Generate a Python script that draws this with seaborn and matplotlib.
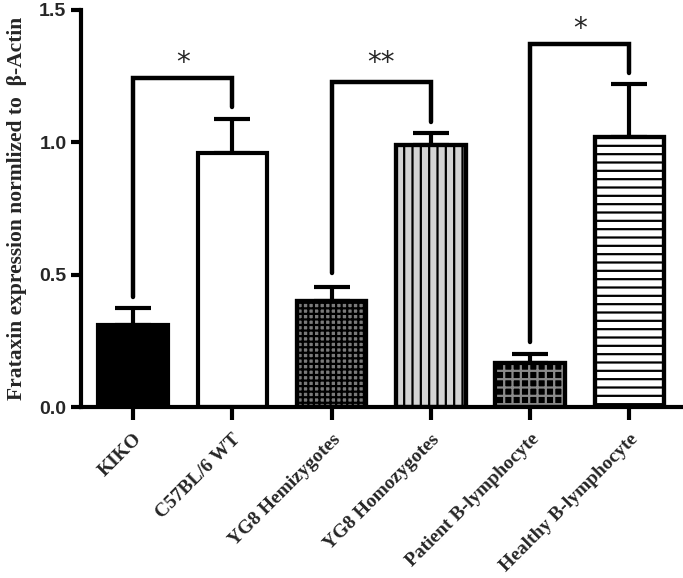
import numpy as np
import pandas as pd
import matplotlib
matplotlib.use("Agg")
import matplotlib.pyplot as plt
import seaborn as sns

# values
groups = ["KIKO", "C57BL/6 WT", "YG8 Hemizygotes", "YG8 Homozygotes",
          "Patient B-lymphocyte", "Healthy B-lymphocyte"]
means = [0.31, 0.96, 0.40, 0.99, 0.165, 1.02]
sem = [0.065, 0.13, 0.055, 0.045, 0.035, 0.20]

# significance brackets: (left, right, top, left leg end, right leg end, label, star height)
pairs = [(0, 1), (2, 3), (4, 5)]
bracket_top = [1.243, 1.228, 1.371]
left_end = [0.416, 0.506, 0.246]
right_end = [1.133, 1.077, 1.262]
stars = ["*", "**", "*"]
star_y = [1.30, 1.30, 1.43]

face = ["black", "white", "#7a7a7a", "#d4d4d4", "black", "white"]
hatches = [None, None, "+++", "||", "++", "--"]
hatch_col = ["black", "black", "black", "black", "#8a8a8a", "black"]

df = pd.DataFrame({"group": groups, "value": means})

sns.set_style("ticks")
plt.rcParams["hatch.linewidth"] = 1.6

fig = plt.figure(figsize=(6.83, 5.78), dpi=100)
ax = fig.add_axes([0.1186, 0.2958, 0.8814, 0.6869])

sns.barplot(data=df, x="group", y="value", order=groups, color="white",
            width=0.7, errorbar=None, ax=ax, zorder=2)

for i, bar in enumerate(ax.patches[:len(groups)]):
    bar.set_facecolor(face[i])
    bar.set_edgecolor("black")
    bar.set_linewidth(3)
    if hatches[i] is not None:
        # separate layer so the hatch can carry its own colour
        ax.bar(i, means[i], width=0.7, facecolor="none", edgecolor=hatch_col[i],
               hatch=hatches[i], linewidth=0, zorder=2.5)
        ax.bar(i, means[i], width=0.7, facecolor="none", edgecolor="black",
               linewidth=3, zorder=2.6)

x = np.arange(len(groups))
ax.errorbar(x, means, yerr=[np.zeros(len(sem)), sem], fmt="none", ecolor="black",
            elinewidth=3, capsize=13, capthick=3, zorder=1)

for k, (a, b) in enumerate(pairs):
    ax.plot([a, a, b, b], [left_end[k], bracket_top[k], bracket_top[k], right_end[k]],
            color="black", lw=3.2, solid_capstyle="round", solid_joinstyle="miter",
            zorder=3)
    ax.text((a + b) / 2, star_y[k], stars[k], ha="center", va="center",
            fontsize=20, family="DejaVu Sans")

ax.set_xlim(-0.524, 5.54)
ax.set_ylim(0, 1.5)
ax.set_yticks([0.0, 0.5, 1.0, 1.5])
ax.set_yticklabels(["0.0", "0.5", "1.0", "1.5"], family="Liberation Sans",
                   fontweight="bold", fontsize=14)
ax.set_xticks(x)
ax.set_xticklabels(groups, rotation=45, ha="right", rotation_mode="anchor",
                   family="Liberation Serif", fontweight="bold", fontsize=14)
ax.tick_params(axis="both", direction="out", length=7, width=3, color="black")
ax.tick_params(axis="x", length=9, pad=8)

ax.set_xlabel("")
ax.set_ylabel("Frataxin expression normlized to  \u03b2-Actin", family="Liberation Serif",
              fontweight="bold", fontsize=15.5, labelpad=9)

sns.despine(ax=ax)
for side in ["left", "bottom"]:
    ax.spines[side].set_linewidth(3)
    ax.spines[side].set_color("black")

fig.savefig("out.png", dpi=100)
